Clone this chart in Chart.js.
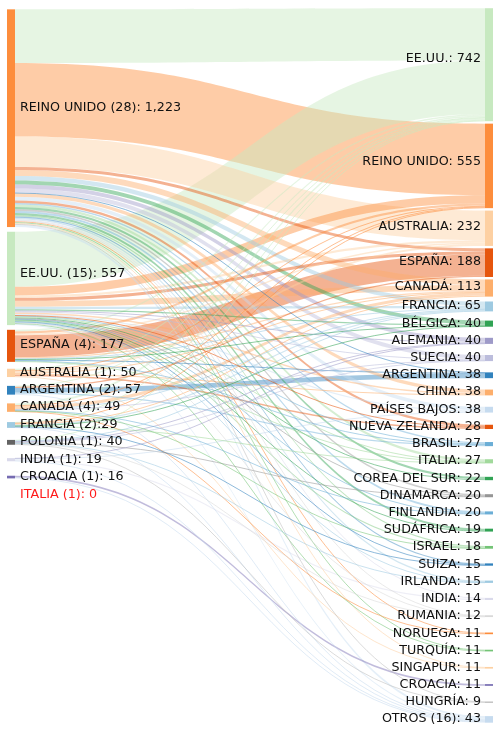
<!DOCTYPE html>
<html>
<head>
<meta charset="utf-8">
<script src="https://cdn.jsdelivr.net/npm/chart.js@4.4.1/dist/chart.umd.min.js"></script>
<style>
  html, body { margin: 0; padding: 0; background: #fff; }
</style>
</head>
<body>
<canvas id="sankey" width="500" height="735"></canvas>
<script>
// left column
const sourceNames = ['REINO UNIDO', 'EE.UU.', 'ESPAÑA', 'AUSTRALIA', 'ARGENTINA', 'CANADÁ', 'FRANCIA', 'POLONIA', 'INDIA', 'CROACIA', 'ITALIA'];
const sourceLabels = ['REINO UNIDO (28): 1,223', 'EE.UU. (15): 557', 'ESPAÑA (4): 177', 'AUSTRALIA (1): 50', 'ARGENTINA (2): 57',
  'CANADÁ (4): 49', 'FRANCIA (2):29', 'POLONIA (1): 40', 'INDIA (1): 19', 'CROACIA (1): 16', 'ITALIA (1): 0'];

// right column
const targetNames = ['EE.UU.', 'REINO UNIDO', 'AUSTRALIA', 'ESPAÑA', 'CANADÁ', 'FRANCIA', 'BÉLGICA', 'ALEMANIA', 'SUECIA',
  'ARGENTINA', 'CHINA', 'PAÍSES BAJOS', 'NUEVA ZELANDA', 'BRASIL', 'ITALIA', 'COREA DEL SUR', 'DINAMARCA', 'FINLANDIA',
  'SUDÁFRICA', 'ISRAEL', 'SUIZA', 'IRLANDA', 'INDIA', 'RUMANIA', 'NORUEGA', 'TURQUÍA', 'SINGAPUR', 'CROACIA', 'HUNGRÍA', 'OTROS (16)'];
const targetValues = [742, 555, 232, 188, 113, 65, 40, 40, 40, 38, 38, 38, 28, 27, 27, 22, 20, 20, 19, 18, 15, 15, 14, 12, 11, 11, 11, 11, 9, 43];

// flows [from, to, value]
const flows = [
  ['REINO UNIDO', 'EE.UU.', 343], ['REINO UNIDO', 'REINO UNIDO', 470], ['REINO UNIDO', 'AUSTRALIA', 195],
  ['REINO UNIDO', 'ESPAÑA', 20], ['REINO UNIDO', 'CANADÁ', 37], ['REINO UNIDO', 'FRANCIA', 30],
  ['REINO UNIDO', 'BÉLGICA', 25], ['REINO UNIDO', 'ALEMANIA', 25], ['REINO UNIDO', 'SUECIA', 28],
  ['REINO UNIDO', 'ARGENTINA', 3], ['REINO UNIDO', 'CHINA', 22], ['REINO UNIDO', 'PAÍSES BAJOS', 25],
  ['REINO UNIDO', 'NUEVA ZELANDA', 15], ['REINO UNIDO', 'BRASIL', 10], ['REINO UNIDO', 'ITALIA', 15],
  ['REINO UNIDO', 'COREA DEL SUR', 15], ['REINO UNIDO', 'DINAMARCA', 12], ['REINO UNIDO', 'FINLANDIA', 12],
  ['REINO UNIDO', 'SUDÁFRICA', 14], ['REINO UNIDO', 'ISRAEL', 8], ['REINO UNIDO', 'SUIZA', 8],
  ['REINO UNIDO', 'IRLANDA', 10], ['REINO UNIDO', 'INDIA', 6], ['REINO UNIDO', 'RUMANIA', 6],
  ['REINO UNIDO', 'NORUEGA', 7], ['REINO UNIDO', 'TURQUÍA', 6], ['REINO UNIDO', 'SINGAPUR', 6],
  ['REINO UNIDO', 'HUNGRÍA', 4], ['REINO UNIDO', 'OTROS (16)', 15],

  ['EE.UU.', 'EE.UU.', 352], ['EE.UU.', 'REINO UNIDO', 55], ['EE.UU.', 'AUSTRALIA', 15], ['EE.UU.', 'ESPAÑA', 20],
  ['EE.UU.', 'CANADÁ', 38], ['EE.UU.', 'FRANCIA', 15], ['EE.UU.', 'BÉLGICA', 8], ['EE.UU.', 'ALEMANIA', 7],
  ['EE.UU.', 'SUECIA', 6], ['EE.UU.', 'CHINA', 10], ['EE.UU.', 'PAÍSES BAJOS', 8], ['EE.UU.', 'NUEVA ZELANDA', 3],
  ['EE.UU.', 'BRASIL', 5], ['EE.UU.', 'ITALIA', 5], ['EE.UU.', 'COREA DEL SUR', 7], ['EE.UU.', 'DINAMARCA', 3],
  ['EE.UU.', 'FINLANDIA', 4], ['EE.UU.', 'SUDÁFRICA', 5], ['EE.UU.', 'ISRAEL', 8], ['EE.UU.', 'SUIZA', 4],
  ['EE.UU.', 'IRLANDA', 3], ['EE.UU.', 'RUMANIA', 3], ['EE.UU.', 'TURQUÍA', 5], ['EE.UU.', 'OTROS (16)', 8],

  ['ESPAÑA', 'EE.UU.', 10], ['ESPAÑA', 'REINO UNIDO', 15], ['ESPAÑA', 'AUSTRALIA', 10], ['ESPAÑA', 'ESPAÑA', 140],
  ['ESPAÑA', 'CANADÁ', 8], ['ESPAÑA', 'FRANCIA', 5], ['ESPAÑA', 'BÉLGICA', 4], ['ESPAÑA', 'ARGENTINA', 5],
  ['ESPAÑA', 'BRASIL', 4], ['ESPAÑA', 'ITALIA', 4],

  ['AUSTRALIA', 'EE.UU.', 10], ['AUSTRALIA', 'REINO UNIDO', 5], ['AUSTRALIA', 'AUSTRALIA', 12], ['AUSTRALIA', 'CANADÁ', 5],
  ['AUSTRALIA', 'CHINA', 6], ['AUSTRALIA', 'NUEVA ZELANDA', 10], ['AUSTRALIA', 'SINGAPUR', 5],

  ['ARGENTINA', 'EE.UU.', 5], ['ARGENTINA', 'ESPAÑA', 8], ['ARGENTINA', 'ARGENTINA', 30], ['ARGENTINA', 'BRASIL', 8],
  ['ARGENTINA', 'OTROS (16)', 5],

  ['CANADÁ', 'EE.UU.', 12], ['CANADÁ', 'REINO UNIDO', 5], ['CANADÁ', 'CANADÁ', 20], ['CANADÁ', 'FRANCIA', 4],
  ['CANADÁ', 'SUECIA', 3], ['CANADÁ', 'FINLANDIA', 4], ['CANADÁ', 'ISRAEL', 2], ['CANADÁ', 'NORUEGA', 4],

  ['FRANCIA', 'EE.UU.', 5], ['FRANCIA', 'REINO UNIDO', 5], ['FRANCIA', 'CANADÁ', 5], ['FRANCIA', 'FRANCIA', 8],
  ['FRANCIA', 'BÉLGICA', 3], ['FRANCIA', 'ITALIA', 3], ['FRANCIA', 'SUIZA', 3], ['FRANCIA', 'OTROS (16)', 5],

  ['POLONIA', 'EE.UU.', 5], ['POLONIA', 'FRANCIA', 3], ['POLONIA', 'ALEMANIA', 5], ['POLONIA', 'SUECIA', 3],
  ['POLONIA', 'DINAMARCA', 5], ['POLONIA', 'IRLANDA', 2], ['POLONIA', 'RUMANIA', 3], ['POLONIA', 'HUNGRÍA', 5],

  ['INDIA', 'ALEMANIA', 3], ['INDIA', 'PAÍSES BAJOS', 5], ['INDIA', 'INDIA', 8], ['INDIA', 'OTROS (16)', 4],

  ['CROACIA', 'CROACIA', 11], ['CROACIA', 'OTROS (16)', 6]
];

// tab20c colours
const sourceColors = ['#fd8d3c', '#c7e9c0', '#e6550d', '#fdd0a2', '#3182bd', '#fdae6b', '#9ecae1', '#636363', '#dadaeb', '#756bb1', '#ff0000'];
const targetColors = ['#c7e9c0', '#fd8d3c', '#fdd0a2', '#e6550d', '#fdae6b', '#9ecae1', '#31a354', '#9e9ac8', '#bcbddc',
  '#3182bd', '#fdae6b', '#c6dbef', '#e6550d', '#6baed6', '#a1d99b', '#31a354', '#969696', '#6baed6', '#31a354', '#74c476',
  '#3182bd', '#9ecae1', '#dadaeb', '#d9d9d9', '#fd8d3c', '#74c476', '#fdd0a2', '#756bb1', '#bdbdbd', '#c6dbef'];

// links with indexes
const links = flows.map(f => ({ s: sourceNames.indexOf(f[0]), t: targetNames.indexOf(f[1]), v: f[2] }));

const sourceSize = sourceNames.map((n, i) => links.filter(l => l.s === i).reduce((a, l) => a + l.v, 0));
const targetSize = targetNames.map((n, j) => links.filter(l => l.t === j).reduce((a, l) => a + l.v, 0));

// stack nodes top-down, small ones get a minimum slot
function stack(sizes, pad, minSlot) {
  let cursor = 0;
  const spans = sizes.map(v => {
    const slot = Math.max(v + pad, minSlot);
    const y0 = cursor + (slot - v) / 2;
    cursor += slot;
    return [y0, y0 + v];
  });
  return { spans, end: cursor };
}
const leftCol = stack(sourceSize, 30, 111);
const rightCol = stack(targetSize, 16, 113);
const leftAxisMax = 4610;

// where each link sits on its two nodes
const srcOff = leftCol.spans.map(s => s[0]);
const tgtOff = rightCol.spans.map(s => s[0]);
links.slice().sort((a, b) => a.s - b.s || a.t - b.t).forEach(l => {
  l.ty0 = tgtOff[l.t]; tgtOff[l.t] += l.v;
});
links.slice().sort((a, b) => a.t - b.t || a.s - b.s).forEach(l => {
  l.sy0 = srcOff[l.s]; srcOff[l.s] += l.v;
});

function withAlpha(hex, a) {
  const n = parseInt(hex.slice(1), 16);
  return `rgba(${n >> 16},${(n >> 8) & 255},${n & 255},${a})`;
}

const nodeW = 8;
const font = '12.7px "DejaVu Sans"';

const sankeyPlugin = {
  id: 'sankey',
  afterDatasetsDraw(chart) {
    const { ctx, scales: { x, yL, yR } } = chart;
    const xl = x.getPixelForValue(0);
    const xr = x.getPixelForValue(1);
    const a = xl + nodeW, b = xr - nodeW, m = (a + b) / 2;
    ctx.save();

    // flows, biggest first
    links.slice().sort((p, q) => q.v - p.v).forEach(l => {
      const s0 = yL.getPixelForValue(l.sy0), s1 = yL.getPixelForValue(l.sy0 + l.v);
      const t0 = yR.getPixelForValue(l.ty0), t1 = yR.getPixelForValue(l.ty0 + l.v);
      const col = targetColors[l.t];
      if (s1 - s0 < 1.2) {
        const sc = (s0 + s1) / 2, tc = (t0 + t1) / 2;
        ctx.beginPath();
        ctx.moveTo(a, sc);
        ctx.bezierCurveTo(m, sc, m, tc, b, tc);
        ctx.lineWidth = 1;
        ctx.strokeStyle = withAlpha(col, 0.55);
        ctx.stroke();
      } else {
        ctx.beginPath();
        ctx.moveTo(a, s0);
        ctx.bezierCurveTo(m, s0, m, t0, b, t0);
        ctx.lineTo(b, t1);
        ctx.bezierCurveTo(m, t1, m, s1, a, s1);
        ctx.closePath();
        ctx.fillStyle = withAlpha(col, 0.45);
        ctx.fill();
      }
    });

    // node bars
    leftCol.spans.forEach((sp, i) => {
      if (sourceSize[i] <= 0) return;
      const p0 = yL.getPixelForValue(sp[0]), p1 = yL.getPixelForValue(sp[1]);
      ctx.fillStyle = sourceColors[i];
      ctx.fillRect(xl, p0, nodeW, p1 - p0);
    });
    rightCol.spans.forEach((sp, j) => {
      const p0 = yR.getPixelForValue(sp[0]), p1 = yR.getPixelForValue(sp[1]);
      ctx.fillStyle = targetColors[j];
      ctx.fillRect(xr - nodeW, p0, nodeW, p1 - p0);
    });

    // labels, a little above the middle of each node
    ctx.font = font;
    ctx.textBaseline = 'middle';
    ctx.textAlign = 'left';
    leftCol.spans.forEach((sp, i) => {
      const yc = yL.getPixelForValue(sp[0] + 0.45 * (sp[1] - sp[0]));
      ctx.fillStyle = sourceSize[i] > 0 ? '#111' : '#ff1a1a';
      ctx.fillText(sourceLabels[i], a + 5, yc);
    });
    ctx.textAlign = 'right';
    ctx.fillStyle = '#111';
    rightCol.spans.forEach((sp, j) => {
      const yc = yR.getPixelForValue(sp[0] + 0.45 * (sp[1] - sp[0]));
      ctx.fillText(targetNames[j] + ': ' + targetValues[j], b - 4, yc);
    });
    ctx.restore();
  }
};

new Chart(document.getElementById('sankey'), {
  type: 'scatter',
  data: { datasets: [{ data: [], xAxisID: 'x', yAxisID: 'yR' }] },
  options: {
    responsive: false,
    animation: false,
    layout: { padding: { left: 7, right: 7, top: 7, bottom: 7 } },
    scales: {
      x: { type: 'linear', min: 0, max: 1, display: false },
      yL: { type: 'linear', axis: 'y', min: 0, max: leftAxisMax, reverse: true, display: false },
      yR: { type: 'linear', axis: 'y', min: 0, max: rightCol.end, reverse: true, display: false }
    },
    plugins: { legend: { display: false }, tooltip: { enabled: false } }
  },
  plugins: [sankeyPlugin]
});
</script>
</body>
</html>
